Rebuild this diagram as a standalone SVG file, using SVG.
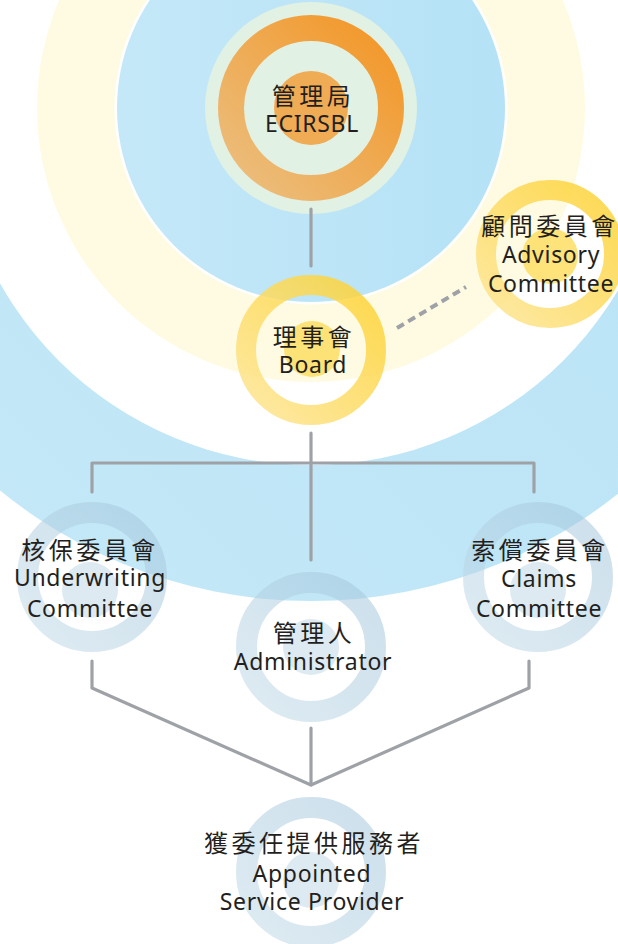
<svg xmlns="http://www.w3.org/2000/svg" width="618" height="944" viewBox="0 0 618 944">
  <defs>
    <linearGradient id="gBlue" x1="0" y1="0" x2="1" y2="0">
      <stop offset="0" stop-color="#c4e8f8"/>
      <stop offset="1" stop-color="#b5e2f6"/>
    </linearGradient>
    <linearGradient id="gBigBlue" x1="0" y1="1" x2="1" y2="0">
      <stop offset="0" stop-color="#c6e9f8"/>
      <stop offset="1" stop-color="#b3e1f5"/>
    </linearGradient>
    <linearGradient id="gOrange" x1="0" y1="1" x2="1" y2="0">
      <stop offset="0" stop-color="#ebbf80"/>
      <stop offset="1" stop-color="#f39626"/>
    </linearGradient>
    <linearGradient id="gYellow" x1="0" y1="1" x2="1" y2="0">
      <stop offset="0" stop-color="#fde594"/>
      <stop offset="1" stop-color="#fdd232"/>
    </linearGradient>
    <linearGradient id="gSteel" x1="0" y1="1" x2="1" y2="0">
      <stop offset="0" stop-color="#c2dae8"/>
      <stop offset="1" stop-color="#a3c6db"/>
    </linearGradient>
    <style>
      .cn { font-family: "Noto Sans CJK TC", "Noto Sans CJK SC", sans-serif; font-size: 24px; fill: #231f20; text-anchor: middle; letter-spacing: 3.5px; }
      .en { font-family: "Noto Sans", "Open Sans", sans-serif; font-size: 23px; fill: #231f20; text-anchor: middle; letter-spacing: 0.7px; }
      .yring { fill: none; stroke: url(#gYellow); stroke-width: 20; opacity: 0.85; }
      .ydot { fill: #fde06a; opacity: 0.9; }
      .sring { fill: none; stroke: url(#gSteel); stroke-width: 21; opacity: 0.55; }
      .sdot { fill: #b3d0e2; opacity: 0.45; }
      .conn { fill: none; stroke: #9ea2a7; stroke-width: 3.2; stroke-linecap: round; stroke-linejoin: round; }
      .dash { fill: none; stroke: #9ea2a7; stroke-width: 4; stroke-dasharray: 8 5; }
    </style>
  </defs>

  <g id="background">
    <rect x="0" y="0" width="618" height="944" fill="#ffffff"/>
    <circle cx="311" cy="108" r="493" fill="url(#gBigBlue)"/>
    <circle cx="311" cy="108" r="357" fill="#ffffff"/>
    <circle cx="311" cy="108" r="274" fill="#fffbe3"/>
    <circle cx="311" cy="108" r="196.5" fill="#ffffff"/>
    <circle cx="311" cy="108" r="194" fill="url(#gBlue)"/>
  </g>

  <g id="node-ecirsbl">
    <circle cx="311" cy="108" r="106" fill="#e1f1e4"/>
    <circle cx="311" cy="108" r="80" fill="none" stroke="url(#gOrange)" stroke-width="26"/>
    <circle cx="311" cy="108" r="37" fill="#f0ab55"/>
    <text class="cn" x="313" y="105">管理局</text>
    <text class="en" x="312" y="132">ECIRSBL</text>
  </g>

  <g id="node-board">
    <circle class="yring" cx="311" cy="350" r="65"/>
    <circle class="ydot" cx="312" cy="349" r="28"/>
    <text class="cn" x="314" y="346">理事會</text>
    <text class="en" x="313" y="373">Board</text>
  </g>

  <g id="node-advisory">
    <circle class="yring" cx="550" cy="254" r="64"/>
    <circle class="ydot" cx="550" cy="256" r="28"/>
    <text class="cn" x="550" y="235">顧問委員會</text>
    <text class="en" x="551" y="263">Advisory</text>
    <text class="en" x="551" y="292">Committee</text>
  </g>

  <g id="node-underwriting">
    <circle class="sring" cx="92" cy="577" r="64.5"/>
    <circle class="sdot" cx="90" cy="590" r="28"/>
    <text class="cn" x="90" y="559">核保委員會</text>
    <text class="en" x="90" y="586">Underwriting</text>
    <text class="en" x="90" y="617">Committee</text>
  </g>

  <g id="node-claims">
    <circle class="sring" cx="538" cy="577" r="64.5"/>
    <circle class="sdot" cx="538" cy="590" r="28"/>
    <text class="cn" x="540" y="559">索償委員會</text>
    <text class="en" x="539" y="587">Claims</text>
    <text class="en" x="539" y="617">Committee</text>
  </g>

  <g id="node-administrator">
    <circle class="sring" cx="311" cy="647" r="64.5"/>
    <circle class="sdot" cx="311" cy="647" r="28"/>
    <text class="cn" x="314" y="642">管理人</text>
    <text class="en" x="313" y="670">Administrator</text>
  </g>

  <g id="node-provider">
    <circle class="sring" cx="311" cy="872" r="64.5"/>
    <circle class="sdot" cx="311" cy="880" r="28"/>
    <text class="cn" x="314" y="852">獲委任提供服務者</text>
    <text class="en" x="312" y="882">Appointed</text>
    <text class="en" x="312" y="910">Service Provider</text>
  </g>

  <g id="connectors">
    <line class="conn" x1="311" y1="209" x2="311" y2="266"/>
    <line class="dash" x1="397" y1="328" x2="466" y2="287"/>
    <line class="conn" x1="311" y1="433" x2="311" y2="560"/>
    <polyline class="conn" points="92,492 92,463 534,463 534,492"/>
    <polyline class="conn" points="92,661 92,688 311,785 529,688 529,661"/>
    <line class="conn" x1="311" y1="728" x2="311" y2="785"/>
  </g>
</svg>
